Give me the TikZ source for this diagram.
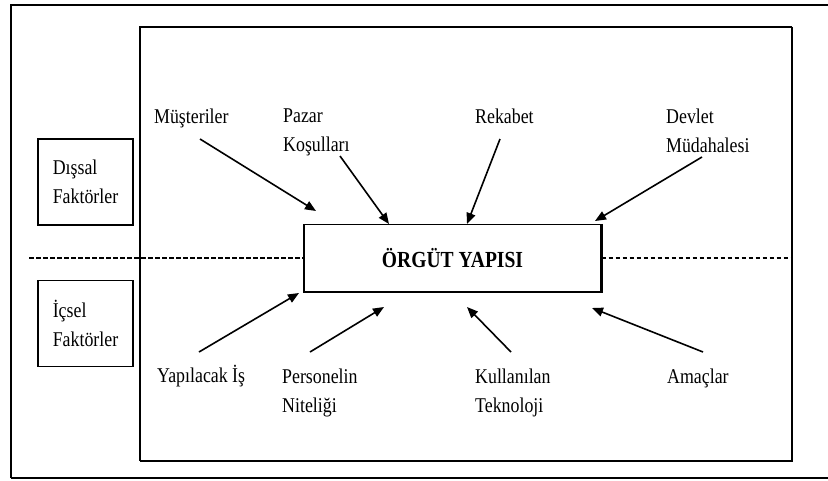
\documentclass[tikz,border=0pt]{standalone}
\usepackage{fontspec}
\setmainfont{Liberation Serif}[FakeStretch=0.85]
\usetikzlibrary{arrows.meta}
\begin{document}
\begin{tikzpicture}[x=1pt,y=-1pt,
  lbl/.style={inner sep=0pt, font=\fontsize{21}{29}\selectfont},
  sidebox/.style={draw, line width=1.1pt, inner sep=0pt, minimum width=95pt,
    minimum height=86pt, align=left, font=\fontsize{21}{29}\selectfont},
  frame/.style={line width=1.1pt},
  shadowedge/.style={line width=2pt},
  arr/.style={line width=1.6pt, -{Triangle[length=11pt,width=9pt]}},
  divider/.style={line width=1.2pt, dash pattern=on 4.5pt off 2.5pt}]
\useasboundingbox (0,0) rectangle (828,480);

% outer frame (its right side lies beyond the page)
\draw[frame] (840,5) -- (11,5) -- (11,478);
\draw[shadowedge] (11,478) -- (840,478);

% inner frame
\draw[frame] (792,27) -- (140,27) -- (140,461);
\draw[shadowedge] (792,26.5) -- (792,461) -- (139.5,461);

% side labels
\node[sidebox] (dis) at (85.5,182) {Dışsal\\Faktörler};
\node[sidebox] (ic) at (85.5,323.5) {İçsel\\Faktörler};

% central box
\node[draw, line width=1.2pt, minimum width=297pt, minimum height=67pt, inner sep=0pt,
  font=\fontsize{23}{28}\selectfont\bfseries] (org) at (452.5,258) {ÖRGÜT YAPISI};
\draw[shadowedge] (org.north east) -- (org.south east) -- (org.south west);

% dividing line between external and internal factors
\draw[divider] (29,258) -- (org.west);
\draw[divider] (org.east) -- (792,258);

% factor labels (multi-line nodes sit on the baseline of their last line)
\node[lbl, anchor=base west] (must) at (154,123) {Müşteriler};
\node[lbl, anchor=base west, align=left] (pazar) at (283,151) {Pazar\\Koşulları};
\node[lbl, anchor=base west] (rek) at (475,123) {Rekabet};
\node[lbl, anchor=base west, align=left] (dev) at (666,152) {Devlet\\Müdahalesi};
\node[lbl, anchor=base west] (yap) at (157,382) {Yapılacak İş};
\node[lbl, anchor=base west, align=left] (pers) at (282,412) {Personelin\\Niteliği};
\node[lbl, anchor=base west, align=left] (kul) at (475,412) {Kullanılan\\Teknoloji};
\node[lbl, anchor=base west] (amac) at (667,383) {Amaçlar};

% arrow ends
\coordinate (t1) at (200,139); \coordinate (h1) at (316,211);
\coordinate (t2) at (340,156); \coordinate (h2) at (389,224);
\coordinate (t3) at (500,139); \coordinate (h3) at (467,224);
\coordinate (t4) at (702,157); \coordinate (h4) at (595,221);
\coordinate (t5) at (199,352); \coordinate (h5) at (299,293);
\coordinate (t6) at (310,352); \coordinate (h6) at (384,307);
\coordinate (t7) at (511,352); \coordinate (h7) at (467,307);
\coordinate (t8) at (703,352); \coordinate (h8) at (592,308);

\foreach \i in {1,...,8} \draw[arr] (t\i) -- (h\i);
\end{tikzpicture}
\end{document}
